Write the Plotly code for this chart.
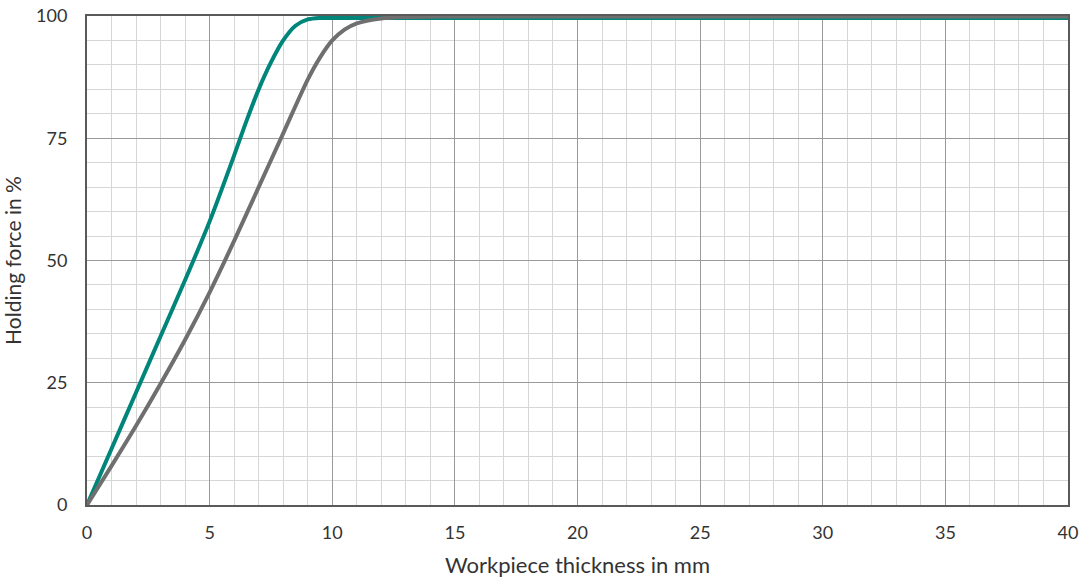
import plotly.graph_objects as go

# Workpiece thickness (mm) and holding force (%) for the two curves
thickness_teal = [0, 1, 2, 3, 4, 5, 6, 6.5, 7, 7.5, 8, 8.5, 9, 9.5, 10, 12, 20, 30, 40]
force_teal = [0, 11.5, 23, 34.5, 46, 58, 71.5, 78.5, 85, 90.5, 95, 98, 99.3, 99.6, 99.6, 99.6, 99.6, 99.6, 99.6]

thickness_gray = [0, 1, 2, 3, 4, 5, 6, 7, 8, 9, 9.5, 10, 10.5, 11, 12, 13, 15, 20, 30, 40]
force_gray = [0, 8, 16.2, 24.8, 33.8, 43.5, 54, 65, 76, 87, 91.5, 95, 97.2, 98.5, 99.5, 99.8, 99.9, 99.9, 99.9, 99.9]

x_ticks = [0, 5, 10, 15, 20, 25, 30, 35, 40]
y_ticks = [0, 25, 50, 75, 100]

FONT = "Lato"
TEXT = "#333333"

fig = go.Figure()
fig.add_trace(go.Scatter(
    x=thickness_teal, y=force_teal, mode="lines",
    line=dict(color="#00857a", width=4, shape="spline", smoothing=0.8),
    showlegend=False,
))
fig.add_trace(go.Scatter(
    x=thickness_gray, y=force_gray, mode="lines",
    line=dict(color="#6f6f6f", width=4, shape="spline", smoothing=0.8),
    showlegend=False,
))

fig.update_layout(
    width=1080, height=584,
    margin=dict(l=87, r=12, t=16, b=79, autoexpand=False),
    paper_bgcolor="white", plot_bgcolor="white",
    font=dict(family=FONT, size=18, color=TEXT),
)
fig.update_xaxes(
    range=[0, 40], tickvals=x_ticks, ticks="", ticklabelstandoff=10,
    automargin=False,
    showgrid=True, gridcolor="#9a9a9a", gridwidth=1,
    minor=dict(dtick=1, showgrid=True, gridcolor="#d6d6d6", gridwidth=1),
    showline=True, linecolor="#5a5a5a", linewidth=2, mirror=True,
    zeroline=False,
    title=dict(text="Workpiece thickness in mm", font=dict(size=22, color=TEXT), standoff=16),
)
fig.update_yaxes(
    range=[0, 100], tickvals=y_ticks, ticks="", ticklabelstandoff=14,
    automargin=False,
    showgrid=True, gridcolor="#9a9a9a", gridwidth=1,
    minor=dict(dtick=5, showgrid=True, gridcolor="#d6d6d6", gridwidth=1),
    showline=True, linecolor="#5a5a5a", linewidth=2, mirror=True,
    zeroline=False,
    title=dict(text="Holding force in %", font=dict(size=21, color=TEXT), standoff=12),
)

fig.write_html("out.html")
